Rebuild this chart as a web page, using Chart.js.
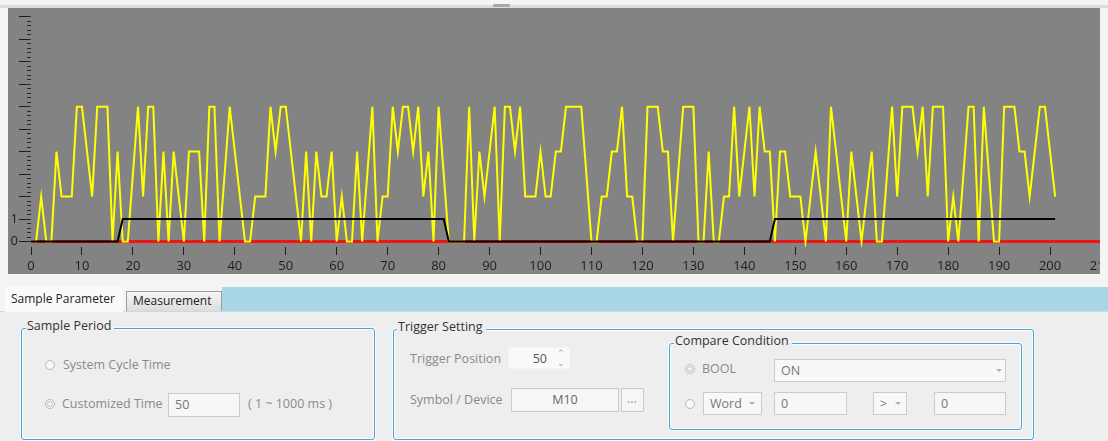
<!DOCTYPE html>
<html>
<head>
<meta charset="utf-8">
<script src="https://cdn.jsdelivr.net/npm/chart.js@4.4.0/dist/chart.umd.min.js"></script>
<style>
body { margin:0; width:1108px; height:441px; background:#f4f4f4; font-family:"Open Sans", sans-serif; font-size:12px; color:#333; position:relative; overflow:hidden }
.abs { position:absolute }
#topline { left:0; top:5px; width:1108px; height:3px; background:#dcdcdc }
#grip { left:493px; top:4px; width:17px; height:3px; background:#a8a8a8; border-radius:1px }
#plot { left:8px; top:8px; width:1092px; height:266px; background:#838383; overflow:hidden }
#plotInner { position:relative; width:1093px; height:266px }
#band { left:222px; top:287px; width:886px; height:24px; background:#a9d6e7 }
#content { left:0; top:311px; width:1108px; height:130px; background:#eeeeee; border-top:1px solid #cfd8dc }
.tab { line-height:20px; white-space:nowrap }
#tab1 { left:5px; top:287px; width:118px; height:25px; background:#fafafa; padding-left:6px; box-sizing:border-box; line-height:24px; color:#222 }
#tab2 { left:126px; top:291px; width:96px; height:20px; background:linear-gradient(#f6f6f6,#dcdcdc); border:1px solid #9c9c9c; border-bottom:none; box-sizing:border-box; padding-left:6px; line-height:18px; color:#222 }
.group { border:1px solid #45a6e0; border-radius:3px; box-shadow:inset 0 0 0 1px #fdfdfd, 0 0 0 1px #fafafa }
.gtitle { background:#eeeeee; padding:0 3px 0 1px; color:#333; font-size:12.5px; line-height:16px; white-space:nowrap }
.lbl { color:#8a8a8a; line-height:16px; white-space:nowrap; font-size:12.5px }
.radio { width:10px; height:10px; border:1px solid #b9b9b9; border-radius:50%; background:#f7f7f7; box-sizing:border-box }
.radio.on::after { content:""; position:absolute; width:4px; height:4px; border-radius:50%; border:1px solid #bdbdbd; box-sizing:content-box; left:1px; top:1px }
.box { border:1px solid #cbcbcb; background:#f6f6f6; box-sizing:border-box; color:#777; line-height:21px; padding-left:6px; white-space:nowrap; font-size:12.5px }
.arrow { width:0; height:0; border-left:3px solid transparent; border-right:3px solid transparent; border-top:3px solid #b0b0b0 }
</style>
</head>
<body>

<div class="abs" id="topline"></div>
<div class="abs" id="grip"></div>
<div class="abs" id="plot"><div id="plotInner"><canvas id="trend"></canvas></div></div>

<div class="abs" id="band"></div>
<div class="abs" id="content"></div>
<div class="abs tab" id="tab1">Sample Parameter</div>
<div class="abs tab" id="tab2">Measurement</div>

<!-- Sample Period -->
<div class="abs group" style="left:21px; top:328px; width:352px; height:110px"></div>
<div class="abs gtitle" style="left:26px; top:318px">Sample Period</div>
<div class="abs radio" style="left:45px; top:360px"></div>
<div class="abs lbl" style="left:63px; top:357px">System Cycle Time</div>
<div class="abs radio on" style="left:45px; top:399px"></div>
<div class="abs lbl" style="left:62px; top:396px">Customized Time</div>
<div class="abs box" style="left:168px; top:393px; width:72px; height:24px">50</div>
<div class="abs lbl" style="left:248px; top:396px">( 1 ~ 1000 ms )</div>

<!-- Trigger Setting -->
<div class="abs group" style="left:393px; top:329px; width:639px; height:109px"></div>
<div class="abs gtitle" style="left:397px; top:319px">Trigger Setting</div>
<div class="abs lbl" style="left:410px; top:351px">Trigger Position</div>
<div class="abs box" style="left:508px; top:347px; width:62px; height:22px; border-color:#f4f4f4; background:#fafafa; text-align:right; padding-right:22px; color:#555">50</div>
<div class="abs" style="left:557px; top:349px; color:#9a9a9a; font-size:9px; line-height:8px">&#8963;</div>
<div class="abs" style="left:557px; top:359px; color:#9a9a9a; font-size:9px; line-height:8px">&#8964;</div>
<div class="abs lbl" style="left:410px; top:392px">Symbol / Device</div>
<div class="abs box" style="left:511px; top:388px; width:108px; height:24px; text-align:center; padding-left:0; color:#666">M10</div>
<div class="abs box" style="left:621px; top:388px; width:23px; height:24px; padding-left:5px; line-height:19px; color:#999">...</div>

<!-- Compare Condition -->
<div class="abs group" style="left:669px; top:343px; width:351px; height:85px"></div>
<div class="abs gtitle" style="left:674px; top:333px">Compare Condition</div>
<div class="abs radio on" style="left:685px; top:364px"></div>
<div class="abs lbl" style="left:702px; top:361px">BOOL</div>
<div class="abs box" style="left:774px; top:359px; width:232px; height:23px; background:#f8f8f8">ON</div>
<div class="abs arrow" style="left:996px; top:369px"></div>
<div class="abs radio" style="left:685px; top:399px"></div>
<div class="abs box" style="left:703px; top:392px; width:59px; height:23px; background:#f8f8f8">Word</div>
<div class="abs arrow" style="left:749px; top:402px"></div>
<div class="abs box" style="left:774px; top:392px; width:73px; height:23px">0</div>
<div class="abs box" style="left:873px; top:392px; width:34px; height:23px; background:#f8f8f8">&gt;</div>
<div class="abs arrow" style="left:895px; top:402px"></div>
<div class="abs box" style="left:934px; top:392px; width:72px; height:23px">0</div>

<script>
// Данные с графика (номер отсчета = номер в массиве)
let wordValues = [
    0, 0, 2, 0, 0, 4, 2, 2, 2, 6, 6, 4, 2, 6, 6, 6, 0, 4, 0, 0,
    3, 6, 2, 6, 6, 0, 4, 0, 4, 2, 0, 4, 4, 4, 0, 6, 6, 0, 3, 6,
    4, 2, 0, 0, 2, 2, 2, 6, 4, 6, 6, 4, 2, 0, 4, 0, 4, 2, 2, 4,
    0, 2, 0, 0, 4, 0, 3, 6, 0, 2, 2, 6, 4, 6, 6, 4, 6, 2, 4, 0,
    6, 3, 0, 0, 0, 0, 6, 0, 4, 2, 4, 6, 0, 6, 6, 4, 6, 2, 2, 2,
    4, 2, 2, 4, 4, 6, 6, 6, 6, 3, 0, 0, 2, 2, 4, 4, 6, 2, 2, 0,
    0, 6, 6, 6, 4, 4, 0, 3, 6, 6, 6, 0, 0, 4, 0, 0, 2, 2, 6, 2,
    4, 6, 2, 6, 4, 4, 0, 4, 4, 2, 2, 2, 0, 2, 4, 2, 0, 6, 4, 2,
    0, 4, 2, 0, 2, 4, 0, 0, 3, 6, 2, 6, 6, 6, 4, 6, 2, 6, 6, 6,
    0, 2, 0, 3, 6, 6, 0, 6, 3, 0, 0, 6, 6, 6, 4, 4, 2, 4, 6, 6,
    4, 2
]

// бит M10 -- точки перехода
let bitX = [0, 17, 18, 81, 82, 145, 146, 201]
let bitY = [0, 0, 1, 1, 0, 0, 1, 1]

// красная линия нуля
let zeroX = [0, 210]
let zeroY = [0, 0]

// подписи осей
let xTickValues = [0, 10, 20, 30, 40, 50, 60, 70, 80, 90, 100, 110, 120, 130, 140, 150, 160, 170, 180, 190, 200, 210]
let yTickValues = [0, 1, 2, 3, 4, 5, 6, 7, 8, 9, 10]
let yTickLabels = [0, 1]

let labelFont = {family: 'Open Sans', size: 13}

let ctx = document.getElementById('trend').getContext('2d')
let chart = new Chart(ctx, {
    type: 'line',
    data: {
        datasets: [{
            label: 'M10',
            data: bitX.map((x, i) => ({x: x, y: bitY[i]})),
            borderColor: '#000000',
            borderWidth: 2,
            order: 1
        }, {
            label: 'Word',
            data: wordValues.map((v, i) => ({x: i, y: v})),
            borderColor: '#ffff00',
            borderWidth: 2,
            order: 2
        }, {
            label: 'zero',
            data: zeroX.map((x, i) => ({x: x, y: zeroY[i]})),
            borderColor: '#f01414',
            borderWidth: 3,
            order: 3
        }]
    },
    options: {
        responsive: true,
        maintainAspectRatio: false,
        animation: false,
        layout: {padding: 0},
        elements: {point: {radius: 0}, line: {tension: 0}},
        plugins: {legend: {display: false}, tooltip: {enabled: false}},
        scales: {
            x: {
                type: 'linear',
                min: 0,
                max: 210,
                border: {display: false},
                grid: {drawOnChartArea: false, tickLength: 8, color: '#1e1e1e'},
                ticks: {autoSkip: false, maxRotation: 0, padding: 3, color: '#1e1e1e', font: labelFont},
                afterBuildTicks: s => { s.ticks = xTickValues.map(v => ({value: v})) },
                afterFit: s => { s.height = 27; s.paddingLeft = 0; s.paddingRight = 0 }
            },
            y: {
                type: 'linear',
                min: -0.245,
                max: 10,
                weight: 1,
                border: {display: false},
                grid: {drawOnChartArea: false, tickLength: 12, color: '#1e1e1e'},
                ticks: {
                    autoSkip: false,
                    padding: 1,
                    color: '#1e1e1e',
                    font: labelFont,
                    callback: v => yTickLabels.includes(v) ? String(v) : ''
                },
                afterBuildTicks: s => { s.ticks = yTickValues.map(v => ({value: v})) },
                afterFit: s => { s.width = 23 }
            },
            yMinor: {
                type: 'linear',
                position: 'left',
                min: -0.245,
                max: 10,
                weight: 0,
                border: {display: false},
                grid: {drawOnChartArea: false, tickLength: 4, color: '#2a2a2a'},
                ticks: {display: false, stepSize: 0.2, autoSkip: false},
                afterBuildTicks: s => { s.ticks = s.ticks.filter(t => t.value >= -0.001) },
                afterFit: s => { s.width = 0 }
            }
        }
    }
})
</script>
</body>
</html>
